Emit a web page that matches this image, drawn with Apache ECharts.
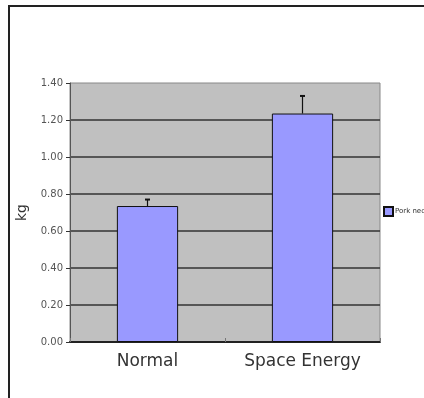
<!DOCTYPE html>
<html>
<head>
<meta charset="utf-8">
<script src="https://cdn.jsdelivr.net/npm/echarts@6/dist/echarts.min.js"></script>
<style>
html,body{margin:0;padding:0;background:#fff;}
#chart{width:424px;height:398px;}
</style>
</head>
<body>
<div id="chart"></div>
<script>
var categories = ['Normal', 'Space Energy'];
var seriesName = 'Pork neck';
var values = [0.735, 1.235];
var errors = [0.035, 0.095];
var yTicks = {min: 0, max: 1.4, interval: 0.2};

var chart = echarts.init(document.getElementById('chart'));
var errData = categories.map(function (c, i) { return [i, values[i], values[i] + errors[i]]; });
var font = '"DejaVu Sans", sans-serif';

chart.setOption({
  animation: false,
  backgroundColor: '#ffffff',
  graphic: [{
    type: 'polyline',
    shape: {points: [[9, 420], [9, 6], [430, 6]]},
    style: {stroke: '#222', lineWidth: 2, fill: null},
    silent: true
  }],
  grid: {left: 70, top: 83, right: 44, bottom: 56, show: true,
    backgroundColor: '#C0C0C0', borderColor: '#888', borderWidth: 1},
  legend: {
    data: [{name: seriesName, icon: 'rect'}], left: 382, top: 205, orient: 'vertical',
    itemWidth: 9, itemHeight: 9, itemGap: 2, padding: 1,
    backgroundColor: '#fff',
    textStyle: {fontSize: 7, color: '#333', fontFamily: font, padding: [0, 0, 0, -3]}
  },
  xAxis: {
    type: 'category', data: categories,
    axisLine: {lineStyle: {color: '#222', width: 2}},
    axisTick: {show: true, inside: true, length: 4, lineStyle: {color: '#777'}},
    axisLabel: {fontSize: 17, color: '#333', fontFamily: font, margin: 11}
  },
  yAxis: {
    type: 'value', min: yTicks.min, max: yTicks.max, interval: yTicks.interval,
    name: 'kg', nameLocation: 'middle', nameRotate: 90, nameGap: 40,
    nameTextStyle: {fontSize: 14, color: '#333', fontFamily: font},
    axisLine: {show: true, lineStyle: {color: '#555', width: 1}},
    axisTick: {show: true, length: 4, lineStyle: {color: '#333'}},
    axisLabel: {fontSize: 10, color: '#555', fontFamily: font, margin: 7,
      formatter: function (v) { return v.toFixed(2); }},
    splitLine: {show: true, showMaxLine: false, lineStyle: {color: '#333', width: 1.5}}
  },
  series: [{
    name: seriesName, type: 'bar', data: values, barWidth: '39.5%',
    itemStyle: {color: '#9999FF', borderColor: '#111', borderWidth: 1}
  }, {
    type: 'custom', data: errData, z: 5,
    renderItem: function (params, api) {
      var x = api.value(0);
      var top = api.coord([x, api.value(2)]);
      var base = api.coord([x, api.value(1)]);
      return {type: 'group', children: [
        {type: 'line', shape: {x1: top[0], y1: top[1], x2: base[0], y2: base[1]},
          style: {stroke: '#111', lineWidth: 1.2}},
        {type: 'line', shape: {x1: top[0] - 2.5, y1: top[1], x2: top[0] + 2.5, y2: top[1]},
          style: {stroke: '#111', lineWidth: 2}}
      ]};
    }
  }]
});
</script>
</body>
</html>
